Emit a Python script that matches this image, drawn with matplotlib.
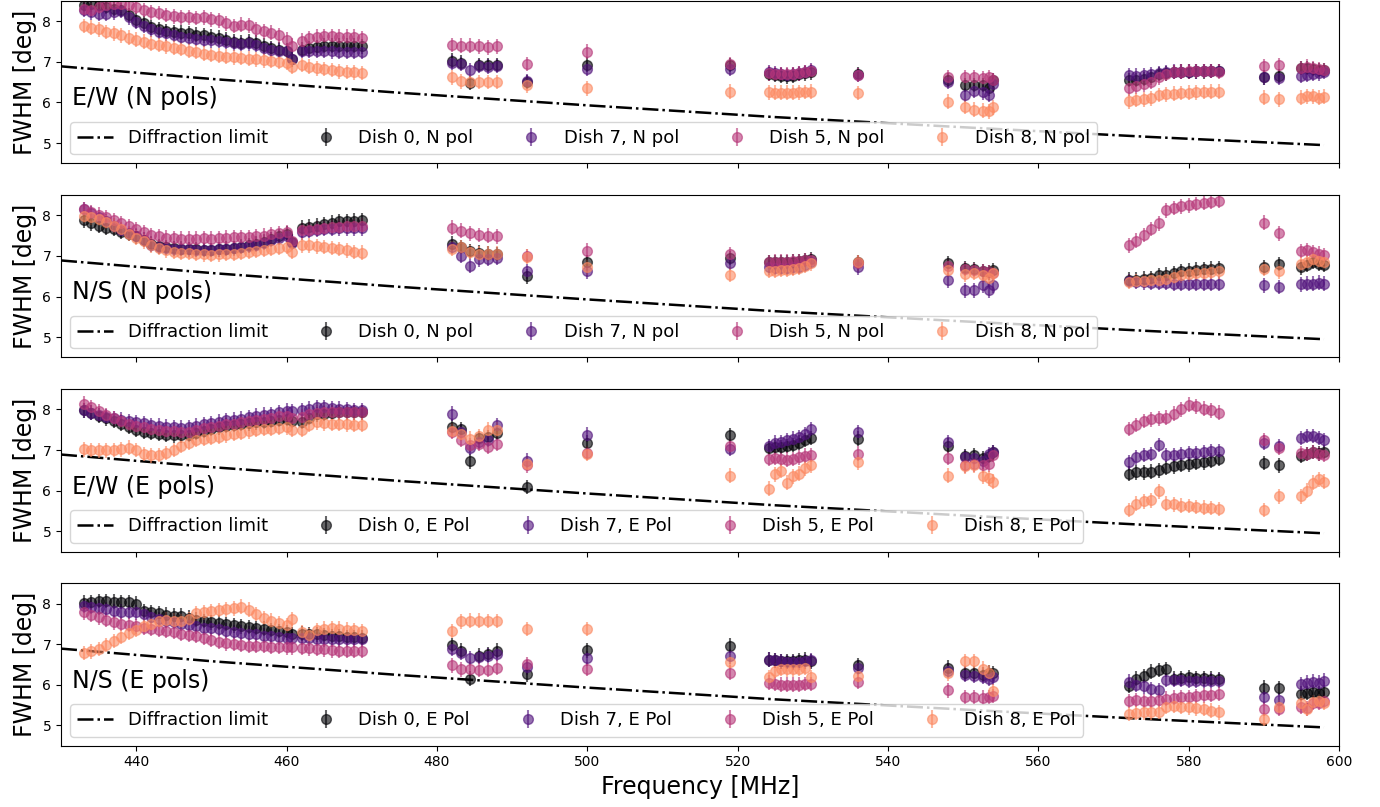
import numpy as np
import matplotlib.pyplot as plt

# channel frequencies [MHz] shared by every dish / panel
freq_mhz = (list(range(433, 461)) + [460.7] + list(range(462, 471))
            + [482.0, 483.2, 484.4, 485.6, 486.8, 488.0]
            + [492.0, 500.0, 519.0]
            + [524.2, 525.0, 525.8, 526.6, 527.4, 528.2, 529.0, 529.8]
            + [536.0, 548.0]
            + [550.2, 551.4, 552.6, 553.4, 554.0]
            + list(range(572, 585))
            + [590.0, 592.0]
            + [595.0, 595.8, 596.6, 597.3, 598.0])

# diffraction limited beam width
diff_freq = [430, 450, 475, 500, 525, 550, 575, 598]
diff_fwhm = [6.89, 6.58, 6.24, 5.93, 5.64, 5.39, 5.15, 4.95]

fwhm_err = 0.18

# ---- E/W cut, N pol ----
ew_n_d0 = [8.40, 8.42, 8.40, 8.35, 8.30, 8.28, 8.15, 8.02, 7.95, 7.85, 7.80, 7.76, 7.74,
           7.72, 7.70, 7.67, 7.65, 7.62, 7.60, 7.55, 7.50, 7.47, 7.50, 7.47, 7.40, 7.33,
           7.30, 7.28, 7.06, 7.30, 7.33, 7.36, 7.40, 7.40, 7.40, 7.40, 7.40, 7.38,
           7.03, 6.98, 6.48, 6.92, 6.92, 6.92,
           6.50, 6.93, 6.92,
           6.70, 6.68, 6.66, 6.64, 6.66, 6.70, 6.72, 6.74,
           6.70, 6.55,
           6.43, 6.43, 6.43, 6.35, 6.55,
           6.55, 6.55, 6.58, 6.62, 6.70, 6.72, 6.75, 6.76, 6.76, 6.77, 6.77, 6.78, 6.78,
           6.62, 6.65,
           6.85, 6.85, 6.82, 6.80, 6.80]
ew_n_d7 = [8.28, 8.22, 8.18, 8.18, 8.22, 8.25, 8.10, 7.98, 7.88, 7.80, 7.74, 7.70, 7.66,
           7.62, 7.60, 7.57, 7.55, 7.53, 7.52, 7.50, 7.46, 7.44, 7.46, 7.42, 7.34, 7.30,
           7.28, 7.27, 7.08, 7.27, 7.28, 7.28, 7.27, 7.26, 7.25, 7.25, 7.25, 7.24,
           6.98, 6.95, 6.80, 6.90, 6.88, 6.90,
           6.52, 6.82, 6.82,
           6.75, 6.72, 6.70, 6.68, 6.70, 6.72, 6.75, 6.80,
           6.68, 6.50,
           6.18, 6.28, 6.25, 6.18, 6.45,
           6.68, 6.66, 6.68, 6.70, 6.72, 6.74, 6.76, 6.76, 6.76, 6.77, 6.78, 6.78, 6.78,
           6.62, 6.60,
           6.65, 6.68, 6.70, 6.72, 6.75]
ew_n_d5 = [8.30, 8.28, 8.35, 8.40, 8.42, 8.42, 8.40, 8.35, 8.28, 8.22, 8.20, 8.15, 8.12,
           8.10, 8.10, 8.08, 8.10, 8.05, 8.02, 7.95, 7.88, 7.92, 7.90, 7.80, 7.75, 7.72,
           7.65, 7.55, 7.40, 7.52, 7.58, 7.62, 7.64, 7.64, 7.62, 7.62, 7.62, 7.58,
           7.42, 7.40, 7.40, 7.38, 7.36, 7.38,
           6.95, 7.25, 6.95,
           6.72, 6.70, 6.70, 6.70, 6.70, 6.72, 6.75, 6.78,
           6.68, 6.62,
           6.62, 6.62, 6.60, 6.62, 6.55,
           6.35, 6.40, 6.45, 6.50, 6.62, 6.70, 6.75, 6.76, 6.77, 6.78, 6.78, 6.78, 6.76,
           6.90, 6.92,
           6.85, 6.88, 6.85, 6.82, 6.80]
ew_n_d8 = [7.88, 7.84, 7.80, 7.74, 7.70, 7.65, 7.60, 7.55, 7.50, 7.45, 7.42, 7.38, 7.35,
           7.32, 7.28, 7.24, 7.20, 7.17, 7.15, 7.13, 7.11, 7.10, 7.08, 7.06, 7.04, 7.02,
           7.00, 6.98, 6.88, 6.92, 6.88, 6.84, 6.82, 6.80, 6.77, 6.75, 6.74, 6.73,
           6.62, 6.52, 6.50, 6.50, 6.50, 6.50,
           6.42, 6.35, 6.27,
           6.25, 6.24, 6.24, 6.24, 6.24, 6.25, 6.26, 6.27,
           6.23, 6.02,
           5.90, 5.82, 5.80, 5.78, 5.88,
           6.03, 6.06, 6.08, 6.10, 6.18, 6.20, 6.22, 6.23, 6.24, 6.25, 6.26, 6.27, 6.27,
           6.12, 6.08,
           6.12, 6.15, 6.15, 6.12, 6.14]

# ---- N/S cut, N pol ----
ns_n_d0 = [7.88, 7.80, 7.74, 7.70, 7.66, 7.60, 7.54, 7.48, 7.40, 7.30, 7.24, 7.21, 7.19,
           7.18, 7.17, 7.16, 7.15, 7.15, 7.16, 7.18, 7.20, 7.23, 7.26, 7.30, 7.35, 7.42,
           7.48, 7.55, 7.35, 7.70, 7.72, 7.75, 7.78, 7.82, 7.85, 7.86, 7.87, 7.88,
           7.30, 7.22, 7.12, 7.08, 7.06, 7.05,
           6.50, 6.84, 6.95,
           6.85, 6.84, 6.84, 6.85, 6.86, 6.88, 6.90, 6.93,
           6.85, 6.83,
           6.70, 6.68, 6.62, 6.60, 6.65,
           6.42, 6.42, 6.44, 6.46, 6.52, 6.54, 6.58, 6.62, 6.64, 6.66, 6.68, 6.69, 6.70,
           6.72, 6.80,
           6.72, 6.78, 6.85, 6.80, 6.78]
ns_n_d7 = [8.15, 8.05, 7.95, 7.85, 7.75, 7.65, 7.57, 7.50, 7.40, 7.28, 7.22, 7.20, 7.18,
           7.17, 7.16, 7.15, 7.15, 7.15, 7.16, 7.17, 7.19, 7.22, 7.25, 7.28, 7.33, 7.40,
           7.45, 7.50, 7.33, 7.58, 7.62, 7.64, 7.66, 7.67, 7.68, 7.68, 7.68, 7.68,
           7.22, 7.00, 6.76, 6.92, 6.93, 6.95,
           6.62, 6.62, 6.83,
           6.72, 6.70, 6.70, 6.70, 6.72, 6.74, 6.78, 6.85,
           6.72, 6.40,
           6.15, 6.15, 6.28, 6.15, 6.28,
           6.38, 6.36, 6.35, 6.34, 6.34, 6.33, 6.32, 6.32, 6.32, 6.32, 6.32, 6.32, 6.32,
           6.28, 6.24,
           6.30, 6.32, 6.32, 6.34, 6.32]
ns_n_d5 = [8.15, 8.08, 8.02, 7.95, 7.88, 7.80, 7.73, 7.66, 7.58, 7.52, 7.48, 7.45, 7.44,
           7.43, 7.43, 7.43, 7.44, 7.43, 7.44, 7.45, 7.46, 7.47, 7.47, 7.48, 7.50, 7.53,
           7.56, 7.59, 7.36, 7.63, 7.65, 7.67, 7.69, 7.71, 7.72, 7.73, 7.74, 7.75,
           7.70, 7.62, 7.56, 7.52, 7.50, 7.48,
           7.00, 7.13, 7.04,
           6.85, 6.86, 6.86, 6.86, 6.87, 6.88, 6.90, 6.90,
           6.82, 6.75,
           6.68, 6.65, 6.62, 6.60, 6.58,
           7.26, 7.38, 7.52, 7.66, 7.80, 8.12, 8.18, 8.22, 8.25, 8.28, 8.31, 8.34, 8.36,
           7.82, 7.56,
           7.12, 7.15, 7.10, 7.06, 7.02]
ns_n_d8 = [7.98, 7.95, 7.92, 7.84, 7.75, 7.66, 7.55, 7.45, 7.36, 7.26, 7.20, 7.14, 7.11,
           7.08, 7.07, 7.05, 7.04, 7.03, 7.04, 7.05, 7.06, 7.08, 7.10, 7.12, 7.15, 7.18,
           7.20, 7.22, 7.10, 7.26, 7.26, 7.24, 7.22, 7.20, 7.17, 7.14, 7.10, 7.08,
           7.18, 7.22, 7.10, 7.06, 7.06, 7.06,
           6.98, 6.72, 6.54,
           6.64, 6.64, 6.65, 6.66, 6.68, 6.70, 6.75, 6.82,
           6.85, 6.66,
           6.55, 6.58, 6.52, 6.45, 6.58,
           6.36, 6.38, 6.38, 6.40, 6.42, 6.44, 6.48, 6.52, 6.55, 6.57, 6.59, 6.61, 6.62,
           6.68, 6.62,
           6.80, 6.85, 6.92, 6.88, 6.85]

# ---- E/W cut, E pol ----
ew_e_d0 = [7.98, 7.92, 7.85, 7.78, 7.72, 7.65, 7.58, 7.50, 7.45, 7.42, 7.40, 7.37, 7.36,
           7.36, 7.38, 7.42, 7.48, 7.52, 7.56, 7.60, 7.62, 7.64, 7.66, 7.68, 7.70, 7.72,
           7.74, 7.77, 7.72, 7.70, 7.80, 7.88, 7.90, 7.92, 7.93, 7.93, 7.93, 7.93,
           7.58, 7.52, 6.72, 7.30, 7.32, 7.42,
           6.09, 7.18, 7.36,
           7.05, 7.08, 7.08, 7.10, 7.12, 7.18, 7.25, 7.30,
           7.28, 7.11,
           6.85, 6.88, 6.80, 6.85, 6.95,
           6.42, 6.45, 6.45, 6.47, 6.50, 6.56, 6.60, 6.63, 6.65, 6.68, 6.70, 6.74, 6.78,
           6.68, 6.62,
           6.85, 6.90, 6.95, 6.92, 6.95]
ew_e_d7 = [7.98, 7.92, 7.86, 7.82, 7.78, 7.75, 7.72, 7.69, 7.66, 7.62, 7.60, 7.58, 7.56,
           7.55, 7.56, 7.60, 7.63, 7.66, 7.70, 7.73, 7.75, 7.77, 7.81, 7.85, 7.87, 7.89,
           7.93, 7.97, 7.96, 7.98, 8.02, 8.05, 8.06, 8.04, 8.02, 8.00, 7.99, 7.98,
           7.90, 7.45, 7.05, 7.20, 7.25, 7.62,
           6.74, 7.38, 7.03,
           7.10, 7.18, 7.20, 7.24, 7.28, 7.32, 7.40, 7.52,
           7.44, 7.19,
           6.82, 6.80, 6.72, 6.90, 6.95,
           6.70, 6.82, 6.88, 6.90, 7.12, 6.88, 6.88, 6.90, 6.92, 6.93, 6.95, 6.97, 6.98,
           7.18, 7.10,
           7.30, 7.35, 7.35, 7.30, 7.25]
ew_e_d5 = [8.14, 8.05, 7.95, 7.86, 7.78, 7.72, 7.65, 7.60, 7.56, 7.52, 7.50, 7.48, 7.46,
           7.44, 7.45, 7.50, 7.54, 7.58, 7.60, 7.63, 7.65, 7.68, 7.72, 7.75, 7.77, 7.80,
           7.83, 7.85, 7.80, 7.82, 7.88, 7.92, 7.93, 7.93, 7.93, 7.93, 7.93, 7.93,
           7.45, 7.25, 7.12, 7.15, 7.08, 7.15,
           6.62, 6.93, 7.10,
           6.78, 6.80, 6.78, 6.76, 6.78, 6.82, 6.86, 6.88,
           6.91, 6.80,
           6.62, 6.65, 6.62, 6.65, 6.88,
           7.52, 7.62, 7.72, 7.76, 7.78, 7.80, 7.90, 8.00, 8.12, 8.08, 8.02, 7.98, 7.92,
           7.25, 7.05,
           6.92, 6.90, 6.95, 6.90, 6.88]
ew_e_d8 = [7.02, 7.00, 6.99, 6.99, 7.00, 7.02, 7.06, 7.00, 6.90, 6.87, 6.88, 6.93, 7.00,
           7.10, 7.18, 7.25, 7.28, 7.30, 7.33, 7.36, 7.40, 7.43, 7.46, 7.49, 7.52, 7.53,
           7.55, 7.56, 7.50, 7.50, 7.62, 7.68, 7.66, 7.65, 7.64, 7.63, 7.62, 7.62,
           7.48, 7.40, 7.28, 7.35, 7.50, 7.50,
           6.66, 6.90, 6.37,
           6.05, 6.40, 6.48, 6.20, 6.35, 6.42, 6.55, 6.62,
           6.70, 6.37,
           6.60, 6.62, 6.35, 6.30, 6.22,
           5.52, 5.68, 5.74, 5.76, 5.98, 5.68, 5.66, 5.63, 5.62, 5.60, 5.58, 5.57, 5.55,
           5.52, 5.86,
           5.86, 6.00, 6.20, 6.28, 6.22]

# ---- N/S cut, E pol ----
ns_e_d0 = [8.02, 8.04, 8.06, 8.06, 8.05, 8.04, 8.03, 8.00, 7.82, 7.79, 7.76, 7.73, 7.70,
           7.70, 7.65, 7.60, 7.57, 7.54, 7.53, 7.50, 7.46, 7.44, 7.42, 7.40, 7.38, 7.35,
           7.32, 7.29, 7.25, 7.26, 7.25, 7.24, 7.22, 7.20, 7.19, 7.18, 7.17, 7.16,
           6.98, 6.84, 6.15, 6.72, 6.75, 6.84,
           6.26, 6.85, 6.96,
           6.62, 6.60, 6.58, 6.58, 6.58, 6.60, 6.62, 6.58,
           6.48, 6.42,
           6.28, 6.28, 6.25, 6.30, 6.28,
           5.98, 6.15, 6.22, 6.32, 6.36, 6.38, 6.15, 6.16, 6.18, 6.17, 6.16, 6.15, 6.14,
           5.93, 5.92,
           5.78, 5.80, 5.82, 5.80, 5.82]
ns_e_d7 = [7.94, 7.92, 7.90, 7.86, 7.82, 7.80, 7.79, 7.78, 7.74, 7.67, 7.62, 7.58, 7.55,
           7.50, 7.47, 7.44, 7.41, 7.39, 7.37, 7.33, 7.30, 7.28, 7.26, 7.24, 7.21, 7.19,
           7.17, 7.16, 7.15, 7.16, 7.14, 7.13, 7.12, 7.12, 7.12, 7.12, 7.12, 7.12,
           6.88, 6.78, 6.66, 6.68, 6.72, 6.76,
           6.43, 6.65, 6.70,
           6.62, 6.60, 6.58, 6.56, 6.55, 6.55, 6.58, 6.60,
           6.42, 6.35,
           6.25, 6.22, 6.20, 6.15, 6.18,
           6.08, 6.00, 5.96, 5.90, 5.86, 6.12, 6.12, 6.12, 6.10, 6.10, 6.10, 6.10, 6.10,
           5.70, 5.62,
           6.02, 6.05, 6.08, 6.05, 6.10]
ns_e_d5 = [7.78, 7.72, 7.66, 7.60, 7.54, 7.50, 7.47, 7.44, 7.40, 7.37, 7.35, 7.32, 7.30,
           7.26, 7.23, 7.20, 7.15, 7.10, 7.06, 7.02, 7.00, 6.98, 6.96, 6.96, 6.95, 6.94,
           6.93, 6.92, 6.92, 6.91, 6.90, 6.88, 6.87, 6.85, 6.84, 6.84, 6.83, 6.83,
           6.48, 6.38, 6.40, 6.36, 6.36, 6.42,
           6.51, 6.39, 6.30,
           6.05, 6.02, 6.00, 6.00, 6.00, 6.00, 6.02, 6.02,
           6.08, 5.86,
           5.70, 5.70, 5.68, 5.70, 5.72,
           5.60, 5.62, 5.60, 5.60, 5.62, 5.66, 5.68, 5.69, 5.70, 5.72, 5.74, 5.75, 5.77,
           5.40, 5.40,
           5.45, 5.42, 5.55, 5.55, 5.60]
ns_e_d8 = [6.78, 6.82, 6.88, 6.98, 7.08, 7.18, 7.28, 7.36, 7.45, 7.50, 7.56, 7.60, 7.58,
           7.56, 7.62, 7.76, 7.78, 7.82, 7.84, 7.86, 7.88, 7.92, 7.85, 7.74, 7.64, 7.58,
           7.52, 7.46, 7.62, 7.30, 7.22, 7.35, 7.38, 7.40, 7.38, 7.36, 7.34, 7.32,
           7.32, 7.56, 7.58, 7.58, 7.57, 7.57,
           7.37, 7.37, 6.55,
           6.18, 6.35, 6.40, 6.38, 6.38, 6.40, 6.42, 6.18,
           6.22, 6.28,
           6.58, 6.58, 6.40, 6.30, 5.85,
           5.28, 5.30, 5.32, 5.32, 5.34, 5.45, 5.48, 5.46, 5.44, 5.42, 5.40, 5.36, 5.32,
           5.16, 5.45,
           5.55, 5.40, 5.58, 5.60, 5.55]

dishes = [0, 7, 5, 8]
colors = plt.cm.magma([0.0, 0.25, 0.5, 0.75])

panels = [
    ('E/W (N pols)', 'N pol', [ew_n_d0, ew_n_d7, ew_n_d5, ew_n_d8]),
    ('N/S (N pols)', 'N pol', [ns_n_d0, ns_n_d7, ns_n_d5, ns_n_d8]),
    ('E/W (E pols)', 'E Pol', [ew_e_d0, ew_e_d7, ew_e_d5, ew_e_d8]),
    ('N/S (E pols)', 'E Pol', [ns_e_d0, ns_e_d7, ns_e_d5, ns_e_d8]),
]

fig, axes = plt.subplots(4, 1, figsize=(13.8, 8.07), sharex=True)
fig.subplots_adjust(left=0.0442, right=0.9703, top=0.9988, bottom=0.076, hspace=0.195)

for ax, (name, pol, series) in zip(axes, panels):
    ax.plot(diff_freq, diff_fwhm, 'k-.', lw=1.8, label='Diffraction limit')
    for dish, vals, c in zip(dishes, series, colors):
        ax.errorbar(freq_mhz, vals, yerr=fwhm_err, fmt='o', color=c, alpha=0.6,
                    ms=7, label=f'Dish {dish}, {pol}')
    ax.text(431.5, 5.93, name, fontsize=17)
    ax.set_ylim(4.5, 8.5)
    ax.set_ylabel('FWHM [deg]', fontsize=17)
    ax.tick_params(labelsize=10)
    ax.legend(loc='lower left', ncol=5, fontsize=13, columnspacing=2.2)

axes[-1].set_xlim(430, 600)
axes[-1].set_xlabel('Frequency [MHz]', fontsize=17)

fig.savefig('out.png', dpi=100)
